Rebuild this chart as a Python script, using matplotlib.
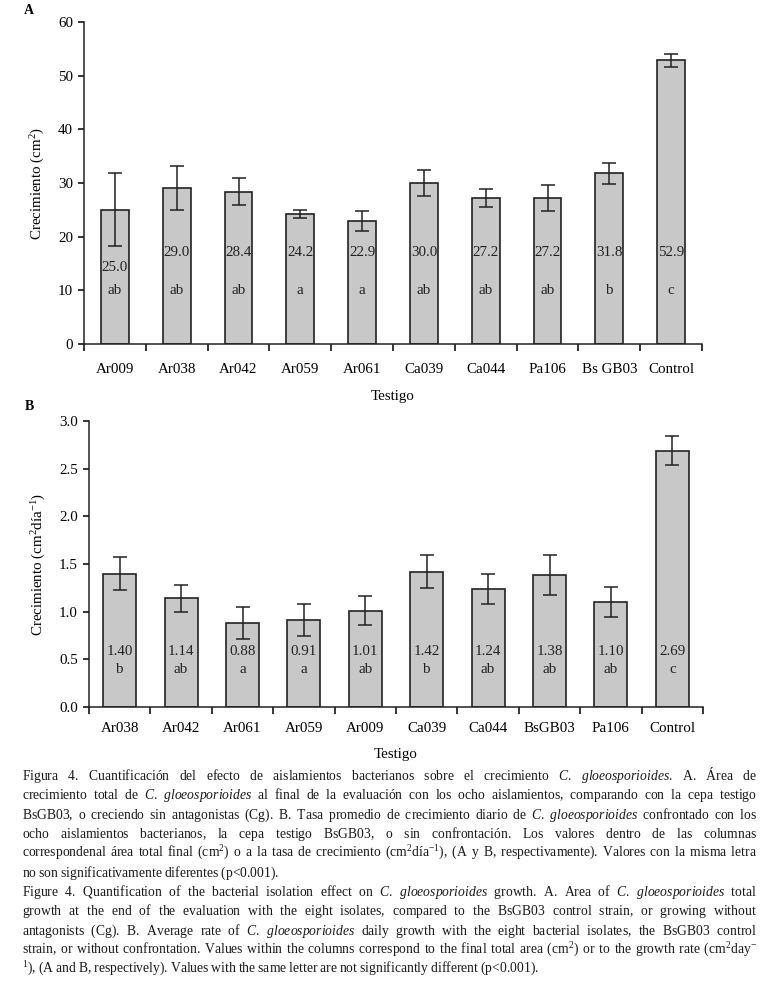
import numpy as np
import matplotlib
matplotlib.use('Agg')
import matplotlib.pyplot as plt

plt.rcParams['font.family'] = ['Liberation Serif', 'DejaVu Serif']
plt.rcParams['mathtext.fontset'] = 'custom'
plt.rcParams['mathtext.rm'] = 'Liberation Serif'
plt.rcParams['mathtext.it'] = 'Liberation Serif:italic'

# panel A: total growth area (cm2)
a_labels = ['Ar009', 'Ar038', 'Ar042', 'Ar059', 'Ar061', 'Ca039', 'Ca044', 'Pa106', 'Bs GB03', 'Control']
a_values = [25.0, 29.0, 28.4, 24.2, 22.9, 30.0, 27.2, 27.2, 31.8, 52.9]
a_err = [6.8, 4.1, 2.5, 0.8, 1.9, 2.5, 1.6, 2.4, 2.0, 1.2]
a_letters = ['ab', 'ab', 'ab', 'a', 'a', 'ab', 'ab', 'ab', 'b', 'c']

# panel B: daily growth rate (cm2 dia-1)
b_labels = ['Ar038', 'Ar042', 'Ar061', 'Ar059', 'Ar009', 'Ca039', 'Ca044', 'BsGB03', 'Pa106', 'Control']
b_values = [1.40, 1.14, 0.88, 0.91, 1.01, 1.42, 1.24, 1.38, 1.10, 2.69]
b_err = [0.17, 0.14, 0.17, 0.17, 0.15, 0.17, 0.16, 0.21, 0.16, 0.15]
b_letters = ['b', 'ab', 'a', 'a', 'ab', 'b', 'ab', 'ab', 'ab', 'c']

# caption lines (*...* = italic), flag = last line of a paragraph
caption = [
    ("Figura 4. Cuantificación del efecto de aislamientos bacterianos sobre el crecimiento *C. gloeosporioides*. A. Área de", False),
    ("crecimiento total de *C. gloeosporioides* al final de la evaluación con los ocho aislamientos, comparando con la cepa testigo", False),
    ("BsGB03, o creciendo sin antagonistas (Cg). B. Tasa promedio de crecimiento diario de *C. gloeosporioides* confrontado con los", False),
    ("ocho aislamientos bacterianos, la cepa testigo BsGB03, o sin confrontación. Los valores dentro de las columnas", False),
    ("correspondenal área total final (cm$^{2}$) o a la tasa de crecimiento (cm$^{2}$día$^{-1}$), (A y B, respectivamente). Valores con la misma letra", False),
    ("no son significativamente diferentes (p<0.001).", True),
    ("Figure 4. Quantification of the bacterial isolation effect on *C. gloeosporioides* growth. A. Area of *C. gloeosporioides* total", False),
    ("growth at the end of the evaluation with the eight isolates, compared to the BsGB03 control strain, or growing without", False),
    ("antagonists (Cg). B. Average rate of *C. gloeosporioides* daily growth with the eight bacterial isolates, the BsGB03 control", False),
    ("strain, or without confrontation. Values within the columns correspond to the final total area (cm$^{2}$) or to the growth rate (cm$^{2}$day$^{-}$", False),
    ("$^{1}$), (A and B, respectively). Values with the same letter are not significantly different (p<0.001).", True),
]

W, H = 763, 982
fig = plt.figure(figsize=(W / 100, H / 100), dpi=100)

bar_color = '#c8c8c8'
edge = '#222222'
fs = 10.8


def panel(rect, labels, values, err, letters, ymax, ystep, fmt, val_y, let_y,
          width, ylabel, tickpad, xlabpad, tag, tag_y):
    ax = fig.add_axes(rect)
    x = np.arange(len(values))
    ax.bar(x, values, width=width, color=bar_color, edgecolor=edge, linewidth=1.2, zorder=2)
    ax.errorbar(x, values, yerr=err, fmt='none', ecolor=edge, elinewidth=1.1,
                capsize=5, capthick=1.1, zorder=3)
    for xi, v, l, vy in zip(x, values, letters, val_y):
        ax.text(xi, vy, fmt.format(v), ha='center', va='center', fontsize=fs, color='#222222', zorder=4)
        ax.text(xi, let_y, l, ha='center', va='center', fontsize=fs, color='#222222', zorder=4)
    ax.set_xlim(-0.5, len(values) - 0.5)
    ax.set_ylim(0, ymax)
    ax.set_yticks(np.arange(0, ymax + ystep / 2, ystep))
    ax.yaxis.set_major_formatter(matplotlib.ticker.FormatStrFormatter(
        '%d' if ystep >= 1 else '%.1f'))
    ax.set_xticks(x)
    ax.set_xticklabels(labels)
    ax.set_xticks(np.arange(-0.5, len(values), 1), minor=True)
    ax.tick_params(axis='x', which='major', length=0, pad=tickpad, labelsize=fs)
    ax.tick_params(axis='x', which='minor', length=5, width=1.1, direction='out')
    ax.tick_params(axis='y', length=4.5, width=1.1, direction='out', labelsize=fs)
    for s in ['top', 'right']:
        ax.spines[s].set_visible(False)
    for s in ['left', 'bottom']:
        ax.spines[s].set_linewidth(1.1)
        ax.spines[s].set_color(edge)
    ax.set_ylabel(ylabel, fontsize=fs, labelpad=8)
    ax.set_xlabel('Testigo', fontsize=fs, labelpad=xlabpad)
    ax.patch.set_alpha(0)
    fig.text(29 / W, 1 - tag_y / H, tag, fontsize=10, fontweight='bold', ha='center', va='center')
    return ax


# value label heights (Ar009 label sits lower, below its error bar)
a_val_y = [14.2] + [17.0] * 9
b_val_y = [0.58] * 10

panel([84 / W, 1 - 344 / H, (702 - 84) / W, 322 / H], a_labels, a_values, a_err, a_letters,
      60, 10, '{:.1f}', a_val_y, 10.0, 0.45, 'Crecimiento (cm$^2$)', 14, 10, 'A', 11)
panel([89 / W, 1 - 707 / H, (703 - 89) / W, 286 / H], b_labels, b_values, b_err, b_letters,
      3.0, 0.5, '{:.2f}', b_val_y, 0.39, 0.54, 'Crecimiento (cm$^2$día$^{-1}$)', 11, 9, 'B', 407)

# justified caption: each line is one text, words joined by mathtext \hspace
fig.canvas.draw()
r = fig.canvas.get_renderer()


def width_of(s, size):
    t = fig.text(0, 0, s, fontsize=size, family='Liberation Serif')
    w = t.get_window_extent(r).width
    t.remove()
    return w


def words_of(line):
    out = []
    italic = False
    for w in line.split(' '):
        word = ''
        for i, p in enumerate(w.split('*')):
            if i > 0:
                italic = not italic
            if not p:
                continue
            if italic:
                tail = '.' if p.endswith('.') else ''
                core = p[:-1] if tail else p
                word += r'$\mathit{' + core + '}$' + tail
            else:
                word += p
        out.append(word)
    return out


def build(ws, gap):
    return (r'$\hspace{%.4f}$' % gap).join(ws)


left, right = 22, 757
span = right - left
base = 10.0
em = width_of(r'a$\hspace{1}$a', base) - width_of('aa', base)
nat_gap = (width_of('a a', base) - width_of('aa', base)) / em

maxw = max(width_of(build(words_of(l), nat_gap), base) for l, _ in caption)
cap_size = min(9.8, base * span / maxw * 0.995)

y0 = 780
dy = 19.3
for i, (line, last) in enumerate(caption):
    ws = words_of(line)
    if last:
        gap = nat_gap
    else:
        w0 = width_of(build(ws, 0), cap_size)
        w1 = width_of(build(ws, 1), cap_size)
        gap = (span - w0) / (w1 - w0)
    fig.text(left / W, 1 - (y0 + i * dy) / H, build(ws, gap), fontsize=cap_size,
             family='Liberation Serif', va='baseline', ha='left', color='#1a1a1a')

fig.savefig('out.png', dpi=100)
